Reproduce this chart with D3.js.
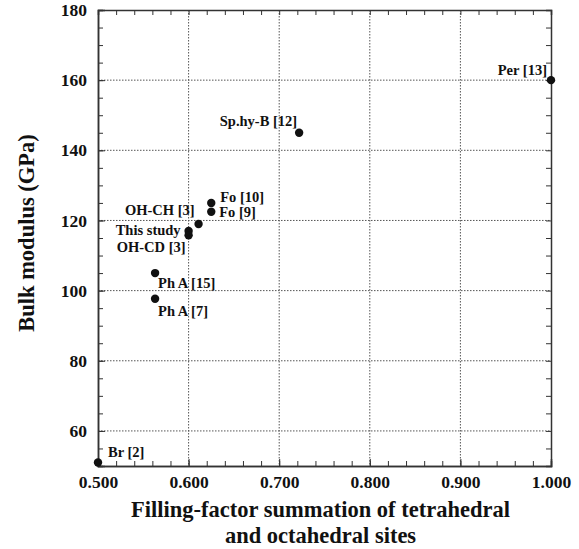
<!DOCTYPE html>
<html>
<head>
<meta charset="utf-8">
<script src="https://cdnjs.cloudflare.com/ajax/libs/d3/7.8.5/d3.min.js"></script>
<style>
  body { margin: 0; background: #fff; }
  text { font-family: "Liberation Serif", "Times New Roman", serif; font-weight: bold; fill: #111; }
</style>
</head>
<body>
<div id="my_dataviz"></div>
<script>

    // data
    var labels = ["Br [2]", "Per [13]", "Sp.hy-B [12]", "Fo [10]", "Fo [9]", "OH-CH [3]",
                  "This study", "OH-CD [3]", "Ph A [15]", "Ph A [7]"];
    var fillingFactor = [0.500, 1.000, 0.722, 0.625, 0.625, 0.611, 0.600, 0.600, 0.563, 0.563];
    var bulkModulus = [51, 160, 145, 125, 122.5, 119, 117, 115.8, 105, 97.7];

    var xTicks = [0.5, 0.6, 0.7, 0.8, 0.9, 1.0];
    var yTicks = [60, 80, 100, 120, 140, 160, 180];

    // label placement relative to each point (dx, dy, anchor)
    var labelPos = [
       {dx: 10, dy: -5, anchor: "start"},
       {dx: -4, dy: -5, anchor: "end"},
       {dx: -2, dy: -7, anchor: "end"},
       {dx: 9, dy: -1, anchor: "start"},
       {dx: 8, dy: 5, anchor: "start"},
       {dx: -4, dy: -9, anchor: "end"},
       {dx: -8, dy: 4, anchor: "end"},
       {dx: -3, dy: 17, anchor: "end"},
       {dx: 3, dy: 15, anchor: "start"},
       {dx: 3, dy: 17, anchor: "start"}
    ];

    var data = labels.map(function(d, i) {
      return {label: d, x: fillingFactor[i], y: bulkModulus[i], pos: labelPos[i]};
    });

    // set the dimensions and margins of the graph
    var margin = {top: 10, right: 28, bottom: 83, left: 98},
        width = 579 - margin.left - margin.right,
        height = 549 - margin.top - margin.bottom;

    var svg = d3.select("#my_dataviz")
      .append("svg")
        .attr("width", width + margin.left + margin.right)
        .attr("height", height + margin.top + margin.bottom)
      .append("g")
        .attr("transform", "translate(" + margin.left + "," + margin.top + ")");

    var x = d3.scaleLinear().domain([0.5, 1.0]).range([0, width]);
    var y = d3.scaleLinear().domain([50, 180]).range([height, 0]);

    var xMinor = d3.range(0.5, 1.0001, 0.02);
    var yMinor = d3.range(50, 180.001, 5);

    // dotted grid at the major ticks
    svg.append("g")
      .selectAll("line")
      .data(xTicks.slice(1, -1))
      .enter().append("line")
        .attr("x1", function(d) { return x(d); })
        .attr("x2", function(d) { return x(d); })
        .attr("y1", 0).attr("y2", height)
        .attr("stroke", "#555").attr("stroke-width", 1)
        .attr("stroke-dasharray", "1.5,1.5");
    svg.append("g")
      .selectAll("line")
      .data(yTicks.slice(0, -1))
      .enter().append("line")
        .attr("y1", function(d) { return y(d); })
        .attr("y2", function(d) { return y(d); })
        .attr("x1", 0).attr("x2", width)
        .attr("stroke", "#555").attr("stroke-width", 1)
        .attr("stroke-dasharray", "1.5,1.5");

    // minor ticks on all four sides, pointing inward
    function styleAxis(g) {
      g.selectAll(".domain").attr("stroke", "#333").attr("stroke-width", 1.5);
      g.selectAll(".tick line").attr("stroke", "#333").attr("stroke-width", 1);
    }
    svg.append("g")
      .attr("transform", "translate(0," + height + ")")
      .call(d3.axisBottom(x).tickValues(xMinor).tickSize(-5).tickFormat(""))
      .call(styleAxis);
    svg.append("g")
      .call(d3.axisTop(x).tickValues(xMinor).tickSize(-5).tickFormat(""))
      .call(styleAxis);
    svg.append("g")
      .call(d3.axisLeft(y).tickValues(yMinor).tickSize(-5).tickFormat(""))
      .call(styleAxis);
    svg.append("g")
      .attr("transform", "translate(" + width + ",0)")
      .call(d3.axisRight(y).tickValues(yMinor).tickSize(-5).tickFormat(""))
      .call(styleAxis);

    // major tick labels
    var xAxis = svg.append("g")
      .attr("transform", "translate(0," + height + ")")
      .call(d3.axisBottom(x).tickValues(xTicks).tickSize(-7).tickPadding(10).tickFormat(d3.format(".3f")))
      .call(styleAxis);
    xAxis.selectAll("text").style("font-size", "17.5px").attr("fill", "#111");

    var yAxis = svg.append("g")
      .call(d3.axisLeft(y).tickValues(yTicks).tickSize(-7).tickPadding(11))
      .call(styleAxis);
    yAxis.selectAll("text").style("font-size", "17.5px").attr("fill", "#111");

    // points
    svg.append("g")
      .selectAll("circle")
      .data(data)
      .enter().append("circle")
        .attr("cx", function(d) { return x(d.x); })
        .attr("cy", function(d) { return y(d.y); })
        .attr("r", 4.2)
        .attr("fill", "#111");

    svg.append("g")
      .selectAll("text")
      .data(data)
      .enter().append("text")
        .attr("x", function(d) { return x(d.x) + d.pos.dx; })
        .attr("y", function(d) { return y(d.y) + d.pos.dy; })
        .attr("text-anchor", function(d) { return d.pos.anchor; })
        .style("font-size", "14.5px")
        .text(function(d) { return d.label; });

    // axis titles
    svg.append("text")
      .attr("text-anchor", "middle")
      .attr("x", width / 2 - 4)
      .attr("y", height + 51)
      .style("font-size", "22.5px")
      .text("Filling-factor summation of tetrahedral");
    svg.append("text")
      .attr("text-anchor", "middle")
      .attr("x", width / 2 - 4)
      .attr("y", height + 77)
      .style("font-size", "22.5px")
      .text("and octahedral sites");

    svg.append("text")
      .attr("text-anchor", "middle")
      .attr("transform", "translate(" + (34 - margin.left) + "," + (height / 2 - 5) + ") rotate(-90)")
      .style("font-size", "22.5px")
      .text("Bulk modulus (GPa)");

</script>
</body>
</html>
